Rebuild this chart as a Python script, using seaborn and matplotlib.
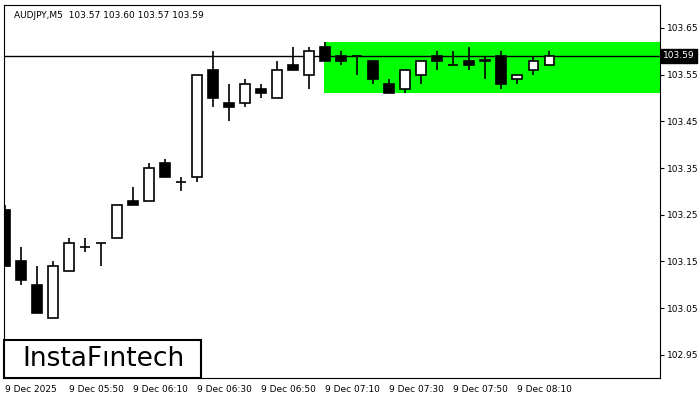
import numpy as np
import pandas as pd
import seaborn as sns
import matplotlib.pyplot as plt
from matplotlib.patches import Rectangle

sns.set_style("white")
plt.rcParams['font.family'] = ['DejaVu Sans']
plt.rcParams['text.color'] = 'black'
plt.rcParams['xtick.color'] = 'black'
plt.rcParams['ytick.color'] = 'black'

# AUDJPY M5 candles (open, high, low, close), starting 9 Dec 2025 05:30
opens = [103.26, 103.15, 103.10, 103.03, 103.13, 103.18, 103.19, 103.20, 103.28, 103.28,
         103.36, 103.32, 103.33, 103.56, 103.49, 103.49, 103.52, 103.50, 103.57, 103.55,
         103.61, 103.59, 103.59, 103.58, 103.53, 103.52, 103.55, 103.59, 103.57, 103.58,
         103.58, 103.59, 103.54, 103.56, 103.57]
highs = [103.27, 103.18, 103.14, 103.15, 103.20, 103.20, 103.19, 103.27, 103.31, 103.36,
         103.37, 103.33, 103.55, 103.60, 103.53, 103.54, 103.53, 103.58, 103.61, 103.61,
         103.62, 103.60, 103.59, 103.58, 103.54, 103.56, 103.58, 103.60, 103.60, 103.61,
         103.59, 103.60, 103.55, 103.59, 103.60]
lows = [103.14, 103.10, 103.04, 103.03, 103.13, 103.17, 103.14, 103.20, 103.27, 103.28,
        103.33, 103.30, 103.32, 103.48, 103.45, 103.48, 103.50, 103.50, 103.56, 103.52,
        103.58, 103.57, 103.55, 103.53, 103.51, 103.51, 103.53, 103.56, 103.57, 103.56,
        103.54, 103.52, 103.53, 103.55, 103.57]
closes = [103.14, 103.11, 103.04, 103.14, 103.19, 103.18, 103.19, 103.27, 103.27, 103.35,
          103.33, 103.32, 103.55, 103.50, 103.48, 103.53, 103.51, 103.56, 103.56, 103.60,
          103.58, 103.58, 103.59, 103.54, 103.51, 103.56, 103.58, 103.58, 103.57, 103.57,
          103.58, 103.53, 103.55, 103.58, 103.59]
price_ticks = [103.65, 103.55, 103.45, 103.35, 103.25, 103.15, 103.05, 102.95]
time_labels = ["9 Dec 2025", "9 Dec 05:50", "9 Dec 06:10", "9 Dec 06:30", "9 Dec 06:50",
               "9 Dec 07:10", "9 Dec 07:30", "9 Dec 07:50", "9 Dec 08:10"]
last_price = 103.59
zone_start, zone_top, zone_bottom = 20, 103.62, 103.51

df = pd.DataFrame({"open": opens, "high": highs, "low": lows, "close": closes})
df["idx"] = np.arange(len(df))
df["bottom"] = df[["open", "close"]].min(axis=1)
df["height"] = (df["open"] - df["close"]).abs()
df["bull"] = df["close"] >= df["open"]

fig = plt.figure(figsize=(7, 4), dpi=100)
ax = fig.add_axes([4 / 700, 22 / 400, 656 / 700, 373 / 400])

# green rectangle pattern zone
ax.add_patch(Rectangle((zone_start - 0.06, zone_bottom), 50, zone_top - zone_bottom,
                       color="#00ff00", lw=0, zorder=0))
ax.axhline(last_price, color="black", lw=1, zorder=1)

ax.vlines(df["idx"], df["low"], df["high"], color="black", lw=1.2, zorder=2)
for _, r in df.iterrows():
    h = max(r["height"], 0.0005)
    ax.bar(r["idx"], h, 0.62, bottom=r["bottom"], color="white" if r["bull"] else "black",
           edgecolor="black", lw=1.2, zorder=3)

ax.set_xlim(-0.06, 40.9)
ax.set_ylim(102.9005, 103.699)
ax.yaxis.tick_right()
ax.set_yticks(price_ticks)
ax.set_yticklabels([f"{p:.2f}" for p in price_ticks], fontsize=6.5)
ax.set_xticks(range(0, 36, 4))
ax.set_xticklabels(time_labels, fontsize=6.5, ha="left")
ax.tick_params(length=3, color="black", pad=2)
for s in ax.spines.values():
    s.set_color("black")
    s.set_linewidth(0.8)

ax.text(0.015, 0.985, "AUDJPY,M5  103.57 103.60 103.57 103.59", transform=ax.transAxes,
        fontsize=6.5, va="top")
ax.text(1.005, last_price, f"{last_price:.2f}", transform=ax.get_yaxis_transform(),
        fontsize=6.5, color="white", va="center", ha="left",
        bbox=dict(facecolor="black", edgecolor="black", boxstyle="square,pad=0.25"))

# logo box
fig.patches.append(Rectangle((4 / 700, 22 / 400), 197 / 700, 38 / 400, transform=fig.transFigure,
                             facecolor="white", edgecolor="black", lw=1.5, zorder=5))
fig.text(22 / 700, 41 / 400, "InstaFıntech", fontsize=19, va="center", ha="left",
         color="black", zorder=6)

fig.savefig("out.png", dpi=100)
